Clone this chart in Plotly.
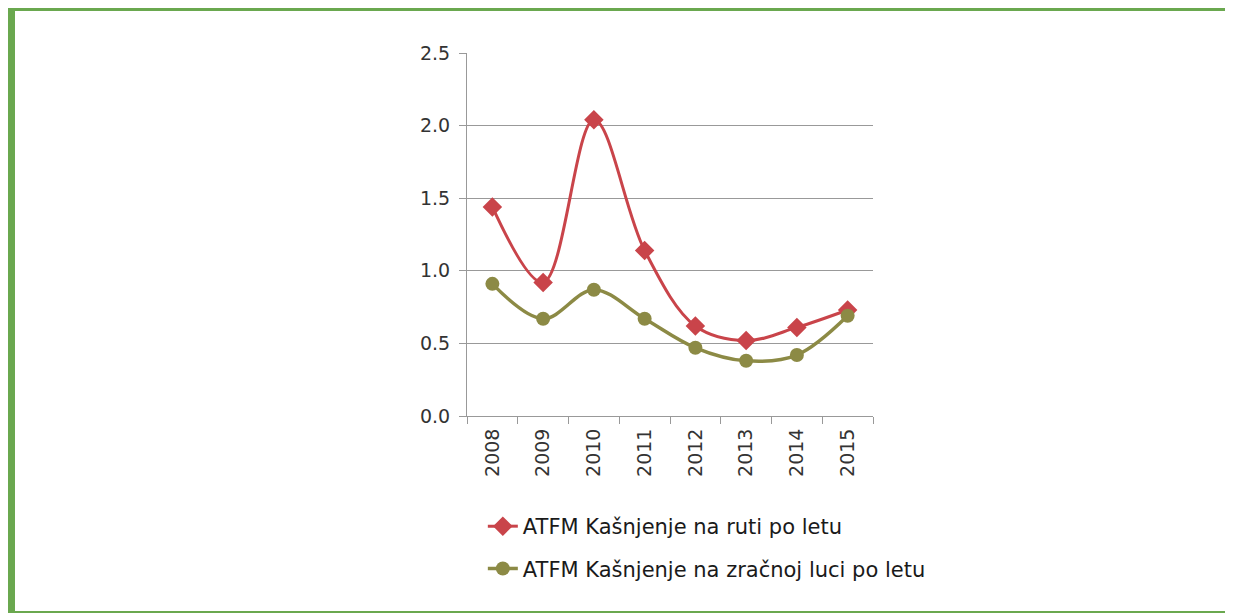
import plotly.graph_objects as go

years = ['2008', '2009', '2010', '2011', '2012', '2013', '2014', '2015']
route_delay = [1.44, 0.92, 2.04, 1.14, 0.62, 0.52, 0.61, 0.73]
airport_delay = [0.91, 0.67, 0.87, 0.67, 0.47, 0.38, 0.42, 0.69]
route_name = 'ATFM Kašnjenje na ruti po letu'
airport_name = 'ATFM Kašnjenje na zračnoj luci po letu'

red = '#C9444A'
olive = '#8C8A45'
grid = '#999999'
frame = '#6AA84F'

W, H = 1225, 605
L, R, T, B = 459, 360, 45, 197
pw, ph = W - L - R, H - T - B


def px(fx, fy):
    # figure pixel -> paper coords
    return (fx - L) / pw, (H - B - fy) / ph


def bar(x0, y0, x1, y1):
    a, b = px(x0, y0)
    c, d = px(x1, y1)
    return dict(type='rect', xref='paper', yref='paper', x0=a, y0=b, x1=c, y1=d,
                fillcolor=frame, line_width=0, layer='below')


fig = go.Figure()
fig.add_trace(go.Scatter(
    x=years, y=route_delay, name=route_name, mode='lines+markers',
    line=dict(color=red, width=3, shape='spline', smoothing=1.0),
    marker=dict(symbol='diamond', size=15, color=red), legendgroup='a'))
fig.add_trace(go.Scatter(
    x=years, y=airport_delay, name=airport_name, mode='lines+markers',
    line=dict(color=olive, width=3.5, shape='spline', smoothing=1.0),
    marker=dict(symbol='circle', size=14, color=olive), legendgroup='b'))

fig.update_layout(
    width=W, height=H,
    margin=dict(l=L, r=R, t=T, b=B),
    paper_bgcolor='white', plot_bgcolor='white',
    font=dict(family='DejaVu Sans', size=19, color='#333'),
    showlegend=True,
    legend=dict(x=0.039, y=-0.248, xanchor='left', yanchor='top', orientation='v',
                tracegroupgap=12, font=dict(size=21, color='#1a1a1a'), itemwidth=30),
    shapes=[bar(0, 0, 7, H), bar(0, 0, W, 3), bar(W - 3, 0, W, H), bar(0, H - 2, W, H)],
)
fig.update_xaxes(
    type='category', tickangle=-90, showgrid=False,
    showline=True, linecolor=grid, linewidth=1,
    ticks='outside', tickson='boundaries', ticklen=7, tickcolor=grid,
    ticklabelstandoff=4, range=[-0.5, 7.5])
fig.update_yaxes(
    range=[0, 2.5], dtick=0.5, tickformat='.1f',
    showgrid=True, gridcolor=grid, gridwidth=1,
    showline=True, linecolor=grid, linewidth=1,
    ticks='outside', ticklen=7, tickcolor=grid, zeroline=False,
    ticklabelstandoff=5)

fig.write_html('out.html')
